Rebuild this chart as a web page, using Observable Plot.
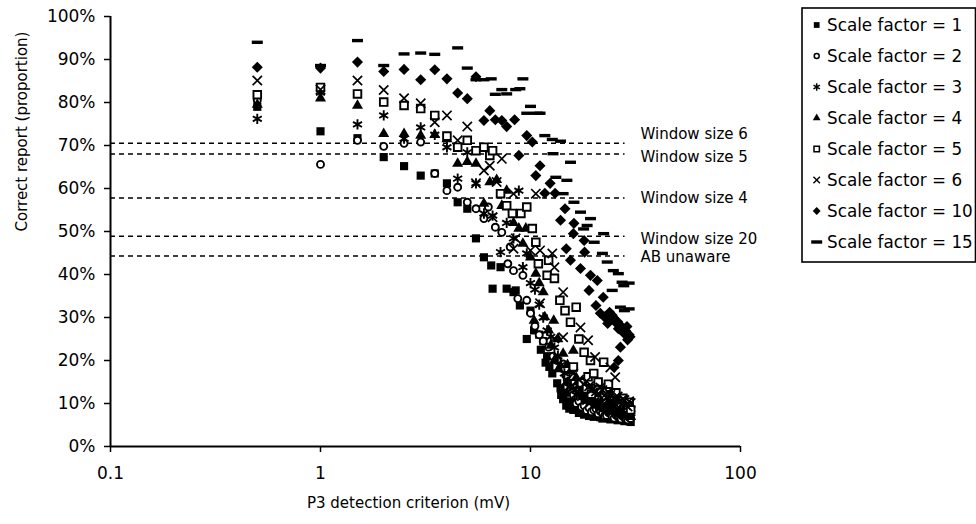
<!DOCTYPE html>
<html><head><meta charset="utf-8">
<script src="https://cdn.jsdelivr.net/npm/d3@7"></script>
<script src="https://cdn.jsdelivr.net/npm/@observablehq/plot@0.6"></script>
<style>
html,body{margin:0;padding:0;background:#fff;}
#wrap{position:relative;width:976px;height:524px;overflow:hidden;background:#fff;}
#legend{position:absolute;left:801px;top:7px;}
</style></head><body><div id="wrap"></div>
<script>
// ---------- data (x = P3 criterion in mV, y = correct report in %) ----------
const seriesNames = ["Scale factor = 1","Scale factor = 2","Scale factor = 3","Scale factor = 4","Scale factor = 5","Scale factor = 6","Scale factor = 10","Scale factor = 15"];

const sf1 = [[0.5,79],[1,73.3],[1.5,71.7],[2,67.3],[2.5,65.2],[3,63],[3.5,63.5],[4,61.2],[4.5,56.8],[5,55.3],[5.5,48.4],[6,44],[6.5,42.1],[6.6,36.7],[7.2,41.7],[7.7,36.7],[8.3,35.9],[8.5,36.3],[8.9,32.8],[9.6,25],[10,31.6],[10.4,27],[11,26],[11.2,22.5],[11.5,24.5],[11.8,19.5],[12,21],[12.3,18.5],[12.7,17],[13.4,14.7],[13.9,13.5],[14,12],[14.3,11],[14.6,12.5],[14.8,9.5],[15,10],[15.3,8.8],[15.6,10.5],[16,8.5],[16.2,9.8],[16.5,9.2],[17,7.8],[17.2,8.4],[17.5,8.6],[18,7.4],[18.5,8],[19,7.1],[19.5,7.6],[20,6.9],[20.5,7.2],[21,7.4],[21.5,6.8],[22,6.5],[22.5,7.1],[23,7],[23.5,6.6],[24,6.3],[24.5,6.9],[25,6.8],[25.5,6.4],[26,6.1],[26.5,6.6],[27,6.5],[27.5,6.2],[28,5.9],[28.5,6.1],[29,6.3],[29.5,5.9],[30,5.7]];
const sf2 = [[0.5,80.5],[1,65.6],[1.5,71.2],[2,69.8],[2.5,70.5],[3,70.8],[3.5,63.5],[4,59.5],[4.5,60.3],[5,56.8],[5.5,55.3],[6,53],[6.3,55.7],[6.8,51],[7.3,49.8],[7.8,42.5],[8,46.4],[8.3,40.9],[8.7,34.4],[9.2,39.8],[9.6,34],[10,31],[10.5,28],[11,26],[11.5,24.5],[12.2,23.1],[12.8,21],[13.4,20],[14.3,19.2],[14.8,16.5],[15,15],[15.5,13],[15.8,12.8],[16,12],[16.5,10],[16.8,11.5],[17,10.5],[17.5,9.2],[18,9.5],[18.5,8.4],[19,9],[19.5,8.1],[20,8.5],[20.5,8.8],[21,7.6],[21.5,8.2],[22,7.8],[22.5,7.1],[23,7.2],[23.5,7.9],[24,7.6],[24.5,6.9],[25,6.6],[25.5,7.3],[26,7],[26.5,6.7],[27,6.4],[27.5,7],[28,6.8],[28.5,6.3],[29,6.2],[29.5,6.7],[30,6.5]];
const sf3 = [[0.5,76.2],[1,82.3],[1.5,74.9],[2,77],[2.5,71.6],[3,74.2],[3.5,72.5],[4,69.6],[4.5,62.3],[5,68.4],[5.5,61.2],[6,54.2],[6.6,53.7],[7.2,45.2],[7.7,52],[8.3,48.4],[8.8,59.5],[9.2,41.7],[9.6,44.9],[10,38],[10.5,36.5],[11,33],[11.5,30],[12,27],[12.5,25.5],[13,23],[13.5,21],[14,19],[14.5,17],[15,15],[15.5,14],[16,13.5],[16.5,12],[17,12.5],[17.5,11.3],[18,11.5],[18.5,10.4],[19,11],[19.5,10.2],[20,10.5],[20.5,9.5],[21,9.6],[21.5,10.3],[22,9.8],[22.5,9.2],[23,8.8],[23.5,8.6],[24,9.2],[24.5,9],[25,8.3],[25.5,8.1],[26,8.6],[26.5,8.9],[27,7.6],[27.5,7.9],[28,8.1],[28.5,8.4],[29,7.3],[29.5,7.5],[30,7.7]];
const sf4 = [[0.5,79.5],[1,81],[1.5,79.3],[2,72.7],[2.5,72.7],[3,72.3],[3.5,72.5],[4,71.5],[4.5,65.8],[5,66.2],[5.5,65.8],[6,56.5],[6.4,61.5],[6.9,62],[7.3,56],[7.7,59.5],[8.3,52],[8.8,50.7],[9.2,47.2],[9.5,50.7],[10,44],[10.4,29.3],[10.6,40.2],[11,38],[11.5,35.9],[11.7,30.1],[12.2,27],[12.5,23.5],[12.9,29.3],[13,20],[13.5,25],[13.6,18],[14.3,21.6],[15,19],[15.5,17.5],[16,22.3],[16.5,16],[16.8,15],[17,14],[17.5,13],[18,12.5],[18.5,11.2],[19,11.5],[19.5,10.4],[20,10.8],[20.5,9.6],[21,10.2],[21.5,9.8],[22,9.1],[22.5,8.7],[23,9.5],[23.5,9.8],[24,8.5],[24.5,8.2],[25,8.8],[25.5,9.1],[26,7.9],[26.5,8],[27,8.2],[27.5,8.5],[28,7.4],[28.5,7.2],[29,7.7],[29.5,7.9],[30,6.9]];
const sf5 = [[0.5,81.8],[1,83.5],[1.5,82],[2,80.1],[2.5,79.3],[3,78.6],[3.5,77],[4,72.2],[4.5,69.6],[5,71.2],[5.5,68.8],[6,69.6],[6.4,67.7],[6.6,68.8],[7.2,58.8],[7.7,56],[8.2,54.2],[9,54.2],[9.6,55.7],[10.2,50.7],[10.6,47.5],[10.9,42.5],[12,39.8],[12.2,43.3],[13,39.1],[13.8,34],[14.6,31.6],[15.5,28.9],[16,18.5],[16.5,32.4],[17,25],[17.5,14.8],[18,21.9],[18.5,13.4],[18.8,16.2],[19.3,20],[19.5,12.2],[20,17],[20.5,13.5],[21,15],[21.5,12.6],[22.3,19.6],[22.5,11.8],[23,13],[23.5,14.5],[24,12],[24.5,11.6],[25,11],[25.5,12.5],[26,10.5],[26.5,9.8],[27,10],[27.5,11.2],[28,9.5],[28.5,8.8],[29,9],[29.5,10.3],[30,8.5]];
const sf6 = [[0.5,85.1],[1,83],[1.5,85.1],[2,82.9],[2.5,81],[3,79.8],[3.5,75.4],[4,77],[4.5,71.2],[5,74.4],[5.5,61.2],[6,64.2],[6.4,65.3],[6.6,53.3],[6.9,61.5],[7.3,66.9],[8.3,58.8],[8.5,48.4],[8.3,46],[10,45.6],[10.6,58.8],[11.1,45.6],[11.1,33.3],[12.7,44.9],[13,41.7],[13,25.1],[14.3,35.9],[14.3,25.4],[14.8,15.3],[16,17],[17,15.5],[17.3,27.7],[18,14.5],[18.5,15.2],[18.8,24.7],[19,14],[19.5,13.2],[20,13.5],[20.3,20.8],[20.5,12.8],[21,12.2],[21.5,13.7],[22,13.1],[22.5,11.9],[23,11.4],[23.5,12.6],[24,18.4],[24,12],[24.5,10.7],[25,11],[25.3,16.1],[25.5,11.5],[26,11.6],[26.5,10.3],[27,9.8],[27.5,11],[28,10.8],[28.5,9.6],[29,9.3],[29.5,10.5],[30,10.1]];
const sf10 = [[0.5,88.2],[1,88],[1.5,89.4],[2,87.2],[2.5,87.7],[3,85.3],[3.5,87.6],[4,85.5],[4.5,82.2],[5,80.9],[5.5,86],[6,75.8],[6.4,78.1],[6.8,76],[7.3,75.8],[7.7,74.4],[8.4,76],[8.8,67.7],[9.6,72.3],[10.2,70.8],[10.6,63],[11.1,65.3],[11.7,58.9],[12.4,61.2],[13.1,58.9],[13.9,52.6],[14.6,55.3],[14.8,46],[15.5,43.3],[16.1,51.9],[16,49.5],[17.3,41.4],[18,47.9],[18.1,45.2],[19,36.3],[19.3,39.8],[20.5,32.8],[20.8,38.6],[21.5,31],[22.2,34.7],[22.5,30.1],[23.3,28.6],[23.8,31.2],[24,29.5],[24.5,30.5],[25,18.4],[25,29.8],[25.5,28.8],[26,29],[26.2,27.4],[26.2,20],[26.8,23.1],[27,28],[27.5,27.2],[27.9,26.3],[28.5,26.8],[28.8,27.9],[29,24.8],[29.5,26],[29.8,25.5]];
const sf15 = [[0.5,94],[1,88.6],[1.5,94.4],[2,88.6],[2.5,91.3],[3,91.5],[3.5,91.2],[4.5,92.7],[5,88],[5.5,85.3],[6,85.3],[6.5,85.5],[6.8,81.9],[7.3,83],[7.7,82],[8.5,83],[8.9,83.2],[9.2,85.5],[9.6,77.5],[10,79.1],[10.8,77.5],[11.1,77.5],[11.7,72.3],[12.7,71.4],[12.8,68.1],[13.2,62.6],[13.9,71],[14.3,58.8],[14.9,61.9],[15.5,66.1],[16.1,56.8],[17.3,54.5],[17.9,50.6],[18.6,51.4],[19.3,53],[20.1,47.5],[22,44.9],[22.3,49.5],[23.2,42.9],[24.5,36.3],[24.8,40.9],[26.2,40.2],[26.8,32.4],[27.3,38.2],[27.8,37.4],[28,31.6],[29.5,38],[29.5,32]];

const xTicks = [0.1, 1, 10, 100];
const xTickLabels = ["0.1", "1", "10", "100"];
const yTicks = [0, 10, 20, 30, 40, 50, 60, 70, 80, 90, 100];
const windowLabels = ["Window size 6", "Window size 5", "Window size 4", "Window size 20", "AB unaware"];
const windowValues = [70.5, 68, 57.8, 48.9, 44.3];
const xTitle = "P3 detection criterion (mV)";
const yTitle = "Correct report (proportion)";

// ---------- styles ----------
const FONT = "DejaVu Sans";
const dashSymbol = {draw(ctx) { ctx.rect(-5.5, -1.7, 11, 3.4); }};
const markStyles = [
  {symbol: "square", fill: "black", r: 4.6},
  {symbol: "circle", fill: "white", stroke: "black", strokeWidth: 1.9, r: 3.5},
  {symbol: "asterisk", stroke: "black", strokeWidth: 1.9, r: 4.9},
  {symbol: "triangle", fill: "black", r: 4.1},
  {symbol: "square", fill: "white", stroke: "black", strokeWidth: 1.9, r: 4.3},
  {symbol: "times", stroke: "black", strokeWidth: 1.7, r: 4.3},
  {symbol: "diamond2", fill: "black", r: 5},
  {symbol: dashSymbol, fill: "black", r: 4}
];
const labelDy = [-9, 3, 0, 3, 1];
const allSeries = [sf1, sf2, sf3, sf4, sf5, sf6, sf10, sf15];

const dots = allSeries.map((pts, i) => Plot.dot(pts, {x: d => d[0], y: d => d[1], ...markStyles[i]}));
const labelMarks = windowLabels.map((lab, i) => Plot.text([lab], {
  x: () => 33.4, y: () => windowValues[i], text: d => d, textAnchor: "start", dy: labelDy[i], fontSize: 15
}));

const chart = Plot.plot({
  width: 976, height: 524,
  marginLeft: 110, marginRight: 236, marginTop: 16, marginBottom: 78,
  style: {fontFamily: FONT, fontSize: "17px", color: "black", background: "white", overflow: "visible"},
  x: {type: "log", domain: [0.1, 100]},
  y: {domain: [0, 100]},
  marks: [
    Plot.axisX({ticks: xTicks, tickFormat: d => xTickLabels[xTicks.indexOf(d)], tickSize: 6, tickPadding: 14, label: null, strokeWidth: 1.5}),
    Plot.axisY({ticks: yTicks, tickFormat: d => d + "%", tickSize: 6, tickPadding: 9, label: null, strokeWidth: 1.5}),
    Plot.ruleY(windowValues, {x1: () => 0.1, x2: () => 28.2, strokeDasharray: "5,4", strokeWidth: 1.5}),
    ...dots,
    Plot.ruleX([0.1], {strokeWidth: 2}),
    Plot.ruleY([0], {strokeWidth: 2}),
    ...labelMarks,
    Plot.text([xTitle], {text: d => d, frameAnchor: "bottom", dy: 61, dx: -17, fontSize: 15}),
    Plot.text([yTitle], {text: d => d, frameAnchor: "left", rotate: -90, dx: -88, fontSize: 15})
  ]
});
document.getElementById("wrap").appendChild(chart);

// ---------- legend ----------
const legendTypes = [d3.symbolSquare, d3.symbolCircle, d3.symbolAsterisk, d3.symbolTriangle, d3.symbolSquare, d3.symbolTimes, d3.symbolDiamond2, dashSymbol];
const leg = d3.select("#wrap").append("svg").attr("id", "legend").attr("width", 176).attr("height", 258)
  .style("font-family", FONT).style("font-size", "16.8px");
leg.append("rect").attr("x", 1).attr("y", 1).attr("width", 173.5).attr("height", 254)
  .attr("fill", "white").attr("stroke", "black").attr("stroke-width", 1.6);
seriesNames.forEach((name, i) => {
  const cy = 18 + 31 * i;
  const st = markStyles[i];
  const size = Math.PI * st.r * st.r * 0.5;
  leg.append("path").attr("transform", `translate(15.7,${cy})`)
    .attr("d", d3.symbol(legendTypes[i], size)())
    .attr("fill", st.fill || "none").attr("stroke", st.stroke || "none").attr("stroke-width", (st.strokeWidth || 0) * 0.8);
  leg.append("text").attr("x", 26).attr("y", cy).attr("dominant-baseline", "central").text(name);
});
</script></body></html>
